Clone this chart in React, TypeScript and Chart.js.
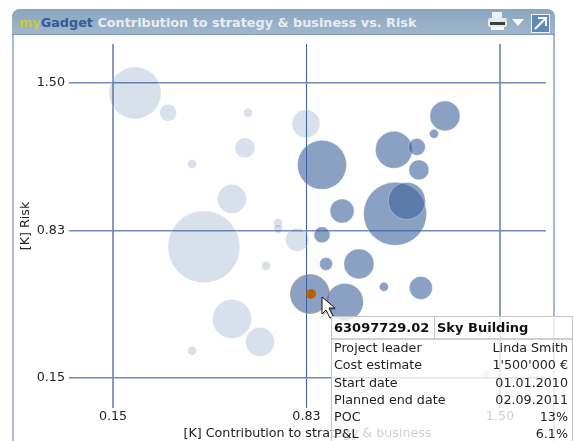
import React, { useEffect, useRef } from "react";
import { Chart, registerables } from "chart.js";

Chart.register(...registerables);

const tickValues = [0.15, 0.825, 1.5];
const tickLabels = ["0.15", "0.83", "1.50"];

const mutedX = [0.227, 0.342, 0.621, 0.823, 0.61, 0.426, 0.565, 0.467, 0.726, 0.726, 0.792, 0.684, 0.565, 0.663, 0.426, 1.12, 1.451];
const mutedY = [1.454, 1.363, 1.363, 1.313, 1.203, 1.129, 0.969, 0.75, 0.859, 0.832, 0.782, 0.663, 0.42, 0.315, 0.274, 0.274, 0.164];
const mutedSize = [26, 8.5, 4.5, 14, 10, 4.5, 14.5, 36, 4.5, 4.5, 11.5, 4.5, 19.5, 14.5, 4.5, 4.5, 4.5];

const activeX = [1.308, 1.27, 0.879, 1.13, 1.21, 1.217, 1.134, 1.175, 0.949, 0.879, 0.893, 1.008, 1.095, 1.224, 0.959];
const activeY = [1.349, 1.267, 1.125, 1.194, 1.207, 1.102, 0.901, 0.96, 0.914, 0.805, 0.672, 0.672, 0.567, 0.562, 0.498];
const activeSize = [15, 4.5, 24.5, 18.5, 8.5, 10, 31.5, 18.5, 12, 8, 6.5, 15, 4.5, 11.5, 18.5];

const selectedX = [0.837];
const selectedY = [0.534];
const selectedSize = [19.5];
const selectedCoreX = [0.841];
const selectedCoreY = [0.534];
const selectedCoreSize = [5];

const tooltipRows = [
  ["Project leader", "Linda Smith"],
  ["Cost estimate", "1'500'000 €"],
  ["Start date", "01.01.2010"],
  ["Planned end date", "02.09.2011"],
  ["POC", "13%"],
  ["P&L", "6.1%"],
];

const toPoints = (xs: number[], ys: number[], rs: number[]) =>
  xs.map((x, i) => ({ x, y: ys[i], r: rs[i] }));

const font = "'DejaVu Sans', sans-serif";
const textSize = 12.7;

const noPadding = (s: any) => {
  s.paddingLeft = 0;
  s.paddingRight = 0;
  s.paddingTop = 0;
  s.paddingBottom = 0;
};

export default function App() {
  const ref = useRef<HTMLCanvasElement>(null);

  useEffect(() => {
    document.body.style.margin = "0";
    const chart = new Chart(ref.current as HTMLCanvasElement, {
      type: "bubble",
      data: {
        datasets: [
          {
            data: toPoints(selectedCoreX, selectedCoreY, selectedCoreSize),
            backgroundColor: "#b5600f",
            borderWidth: 0,
          },
          {
            data: toPoints(selectedX, selectedY, selectedSize),
            backgroundColor: "rgba(62,99,155,0.6)",
            borderColor: "rgba(190,135,90,0.6)",
            borderWidth: 1,
          },
          {
            data: toPoints(activeX, activeY, activeSize),
            backgroundColor: "rgba(62,99,155,0.6)",
            borderColor: "rgba(255,255,255,0.3)",
            borderWidth: 1,
          },
          {
            data: toPoints(mutedX, mutedY, mutedSize),
            backgroundColor: "rgba(62,99,155,0.2)",
            borderColor: "rgba(255,255,255,0.3)",
            borderWidth: 1,
          },
        ],
      },
      options: {
        animation: false,
        responsive: false,
        layout: { autoPadding: false, padding: { top: 44, right: 27, left: 0, bottom: 0 } },
        plugins: { legend: { display: false }, tooltip: { enabled: false } },
        scales: {
          x: {
            type: "linear",
            min: -0.0035,
            max: 1.6605,
            afterBuildTicks: (s: any) => {
              s.ticks = tickValues.map((value) => ({ value }));
            },
            afterFit: (s: any) => {
              s.height = 33;
              noPadding(s);
            },
            border: { display: false },
            grid: {
              drawTicks: false,
              color: (c: any) => (c.index === 1 ? "#3460ab" : "#849bc3"),
              lineWidth: (c: any) => (c.index === 1 ? 1 : 2),
            },
            ticks: {
              autoSkip: false,
              maxRotation: 0,
              padding: 1,
              color: "#222",
              font: { family: font, size: textSize },
              callback: (_v: any, i: number) => tickLabels[i],
            },
            title: {
              display: true,
              text: "[K] Contribution to strategy & business",
              color: "#222",
              font: { family: font, size: textSize },
              padding: { top: 0, bottom: 0 },
            },
          },
          y: {
            type: "linear",
            min: 0.0127,
            max: 1.678,
            afterBuildTicks: (s: any) => {
              s.ticks = tickValues.map((value) => ({ value }));
            },
            afterFit: (s: any) => {
              s.width = 69;
              noPadding(s);
            },
            border: { display: false },
            grid: { drawTicks: false, color: "#6f8bb9", lineWidth: 1.6 },
            ticks: {
              autoSkip: false,
              padding: 4,
              color: "#222",
              font: { family: font, size: textSize },
              callback: (_v: any, i: number) => tickLabels[i],
            },
            title: {
              display: true,
              text: "[K] Risk",
              color: "#222",
              font: { family: font, size: textSize },
              padding: { top: 18, bottom: 0 },
            },
          },
        },
      },
    } as any);
    return () => chart.destroy();
  }, []);

  return (
    <div style={{ position: "fixed", left: 0, top: 0, width: 573, height: 441, overflow: "hidden", background: "#fff", fontFamily: font }}>
      <div
        style={{
          position: "absolute", left: 12, top: 9, width: 543, height: 440, boxSizing: "border-box",
          border: "2px solid #a5bad4", borderRadius: "8px 8px 0 0",
        }}
      />
      <div
        style={{
          position: "absolute", left: 12, top: 9, width: 543, height: 26,
          background: "linear-gradient(#8aa5c2, #a0b6cb)", borderBottom: "1px solid #7f9cc0",
          borderRadius: "8px 8px 0 0", boxSizing: "border-box",
        }}
      />
      <div style={{ position: "absolute", left: 19, top: 15, fontSize: 12.8, fontWeight: 700, lineHeight: "16px", whiteSpace: "nowrap", color: "#e6edf4" }}>
        <span style={{ color: "#c9c93a" }}>my</span>
        <span style={{ color: "#315c98" }}>Gadget</span> Contribution to strategy &amp; business vs. Risk
      </div>
      <svg style={{ position: "absolute", left: 0, top: 0 }} width={573} height={441}>
        <rect x={492} y={12} width={10} height={7} fill="#eef2f6" />
        <rect x={488} y={18} width={19} height={9} rx={2} fill="#e6eaee" />
        <rect x={490} y={22} width={15} height={3} fill="#3a3f45" />
        <rect x={491} y={27} width={13} height={3} fill="#f4f6f8" />
        <polygon points="512,19 524,19 518,26" fill="#f6f8fa" />
        <rect x={531.5} y={14.5} width={18} height={18} fill="#6089b4" stroke="#eef3f7" strokeWidth={1} />
        <path d="M535 29 L545 19 M538 18 H546 V26" fill="none" stroke="#fff" strokeWidth={2} />
      </svg>
      <canvas ref={ref} width={573} height={441} style={{ position: "absolute", left: 0, top: 0 }} />
      <svg style={{ position: "absolute", left: 0, top: 0 }} width={573} height={441}>
        <polygon points="323,299 323,316 327,312 331,320 335,318 331,310 337,310" fill="rgba(0,0,0,0.25)" />
        <polygon points="322,297 322,314 326,310 330,318 333,316 329,308 335,308" fill="#fff" stroke="#111" strokeWidth={1} />
      </svg>
      <div
        style={{
          position: "absolute", left: 331, top: 316, width: 242, height: 140, boxSizing: "border-box",
          background: "rgba(255,255,255,0.78)", border: "1px solid #c4c4c4", color: "#222",
        }}
      >
        <div style={{ display: "flex", height: 21, borderBottom: "2px solid #cfcfcf", fontWeight: 700, fontSize: 13, lineHeight: "21px", color: "#111" }}>
          <div style={{ width: 103, paddingLeft: 2, boxSizing: "border-box", borderRight: "1px solid #c4c4c4" }}>63097729.02</div>
          <div style={{ paddingLeft: 2 }}>Sky Building</div>
        </div>
        {tooltipRows.map(([label, value]) => (
          <div key={label} style={{ display: "flex", justifyContent: "space-between", height: 17.3, lineHeight: "17.3px", fontSize: textSize, padding: "0 4px 0 2px", position: "relative", top: -1 }}>
            <span>{label}</span>
            <span>{value}</span>
          </div>
        ))}
      </div>
    </div>
  );
}
